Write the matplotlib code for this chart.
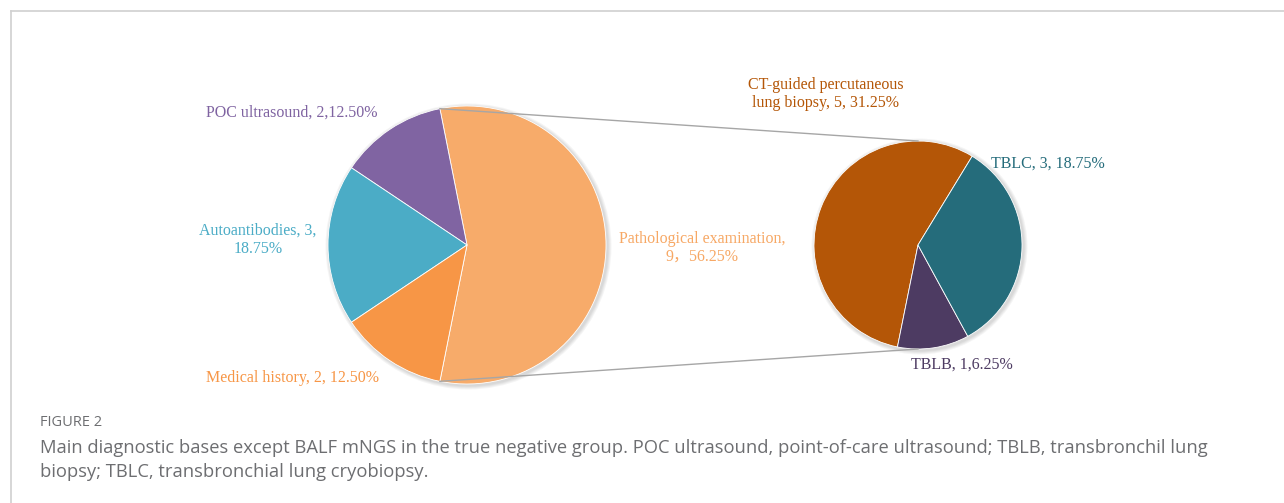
import numpy as np
import matplotlib.pyplot as plt
from matplotlib.lines import Line2D
from matplotlib.patches import Circle

# main pie
main_labels = ["Pathological examination,\n9\uff0c56.25%", "POC ultrasound, 2,12.50%",
               "Autoantibodies, 3,\n18.75%", "Medical history, 2, 12.50%"]
main_values = [9, 2, 3, 2]
main_colors = ["#F7AB6A", "#8064A2", "#4BACC6", "#F79646"]
main_text_colors = ["#F7A865", "#7F63A1", "#4BACC6", "#F79646"]

# sub pie (breakdown of pathological examination)
sub_labels = ["CT-guided percutaneous\nlung biopsy, 5, 31.25%", "TBLB, 1,6.25%", "TBLC, 3, 18.75%"]
sub_values = [5, 1, 3]
sub_colors = ["#B45607", "#4D3B62", "#256C7B"]

W, H = 1284, 503
fig = plt.figure(figsize=(W / 100, H / 100), dpi=100)
ax = fig.add_axes([0, 0, 1, 1])

c1, r1 = (467, H - 245), 139
c2, r2 = (918, H - 245), 104

# soft shadow behind the pies
for c, r in [(c1, r1), (c2, r2)]:
    for k in range(4):
        ax.add_patch(Circle((c[0] + 1.5, c[1] - 1.5), r + 1 + k, color="#000000",
                            alpha=0.04, lw=0, zorder=0))

start1 = -360 * main_values[0] / sum(main_values) / 2
ax.pie(main_values, colors=main_colors, startangle=start1, center=c1, radius=r1,
       counterclock=True, wedgeprops=dict(linewidth=0.6, edgecolor="white"))
ax.pie(sub_values, colors=sub_colors, startangle=58.6, center=c2, radius=r2,
       counterclock=True, wedgeprops=dict(linewidth=0.6, edgecolor="white"))

# connector lines
a = np.deg2rad(-start1)
p_top = (c1[0] + r1 * np.cos(a), c1[1] + r1 * np.sin(a))
p_bot = (c1[0] + r1 * np.cos(a), c1[1] - r1 * np.sin(a))
ax.add_line(Line2D([p_top[0], c2[0]], [p_top[1], c2[1] + r2], color="#A6A6A6", lw=1))
ax.add_line(Line2D([p_bot[0], c2[0]], [p_bot[1], c2[1] - r2], color="#A6A6A6", lw=1))

ax.set_xlim(0, W)
ax.set_ylim(0, H)
ax.set_aspect("auto")
ax.axis("off")

serif = ["Liberation Serif", "Noto Sans CJK SC"]
fs = 11.5
main_pos = [(702, 248), (292, 113), (258, 240), (292, 378)]
for lab, col, (x, y) in zip(main_labels, main_text_colors, main_pos):
    ax.text(x, H - y, lab, color=col, fontsize=fs, family=serif, ha="center", va="center",
            linespacing=1.15)
sub_pos = [(826, 94), (962, 365), (1048, 164)]
for lab, col, (x, y) in zip(sub_labels, sub_colors, sub_pos):
    ax.text(x, H - y, lab, color=col, fontsize=fs, family=serif, ha="center", va="center",
            linespacing=1.15)

# frame of the figure panel
ax.add_line(Line2D([11, W], [H - 11, H - 11], color="#D0D0D0", lw=1.2))
ax.add_line(Line2D([11, 11], [H - 11, 0], color="#D0D0D0", lw=1.2))

# caption
ax.text(40, H - 422, "FIGURE 2", color="#6D6E71", fontsize=10.5, family="Open Sans",
        ha="left", va="center")
ax.text(40, H - 448, "Main diagnostic bases except BALF mNGS in the true negative group. "
        "POC ultrasound, point-of-care ultrasound; TBLB, transbronchil lung",
        color="#6D6E71", fontsize=13.2, family="Open Sans", ha="left", va="center")
ax.text(40, H - 472, "biopsy; TBLC, transbronchial lung cryobiopsy.",
        color="#6D6E71", fontsize=13.2, family="Open Sans", ha="left", va="center")

fig.savefig("out.png", dpi=100)
